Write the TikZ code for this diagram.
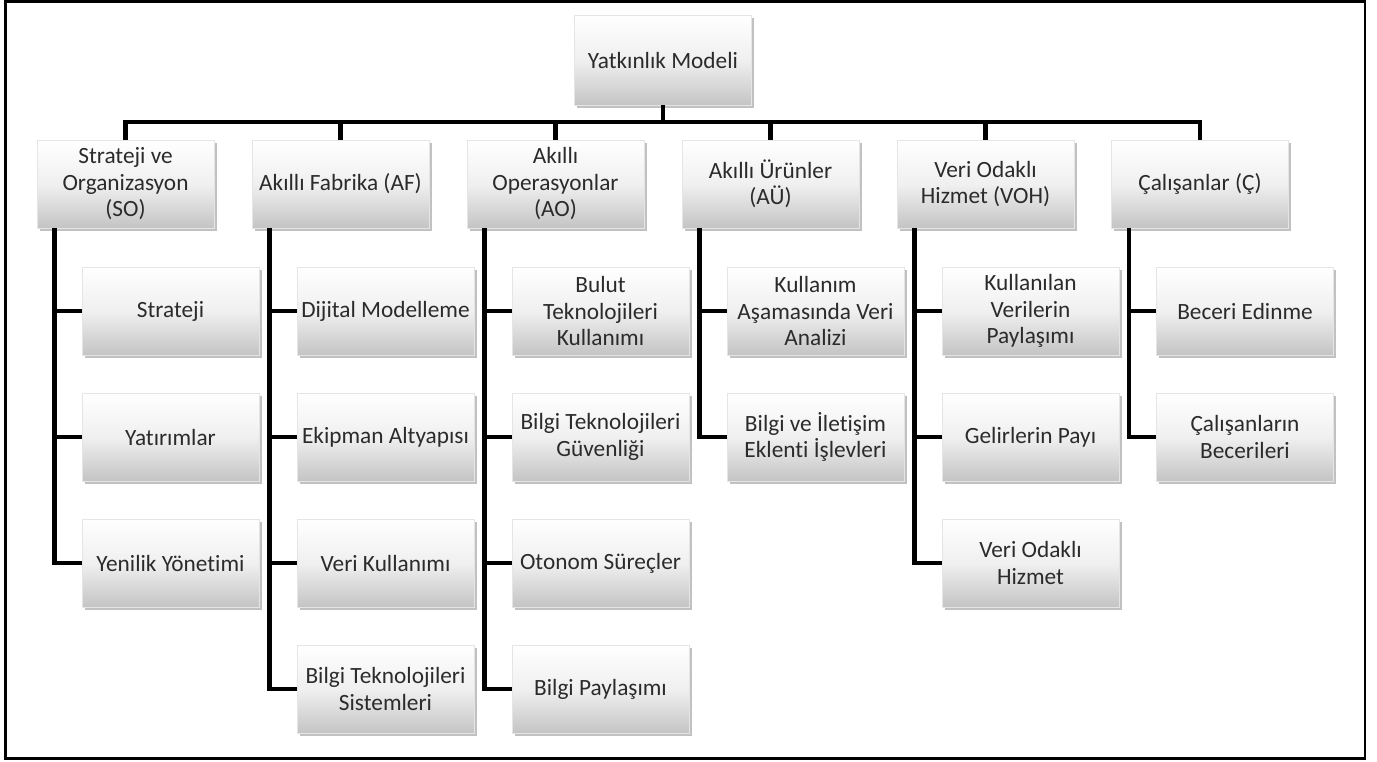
\documentclass[tikz,border=0pt]{standalone}
\usepackage{fontspec}
\setmainfont{Carlito}[Ligatures=NoCommon]
\usetikzlibrary{shadows}
\definecolor{txt}{HTML}{2B2B2B}
\tikzset{
  x=1pt, y=-1pt,
  box/.style={rectangle, minimum width=177pt, minimum height=88pt, inner sep=2pt,
    align=center, text=txt, font=\fontsize{23.3}{26.5}\selectfont,
    draw=black!10, line width=0.6pt,
    top color=white, bottom color=black!23, middle color=black!6,
    drop shadow={shadow xshift=2.5pt, shadow yshift=-3pt, opacity=0.35, fill=black!70}},
  conn/.style={draw=black, line width=4.8pt, line join=miter},
  subconn/.style={draw=black, line width=4.5pt, line join=miter}
}
\begin{document}
\begin{tikzpicture}
\useasboundingbox (0,0) rectangle (1377,762);
\draw[line width=2.6pt] (5.5,1.5) rectangle (1365,758.5);

% root
\node[box, minimum height=90pt] (root) at (663,60) {Yatkınlık Modeli};

% level 1
\node[box] (so)  at (125.5,184) {Strateji ve\\Organizasyon\\(SO)};
\node[box] (af)  at (340.5,184) {Akıllı Fabrika (AF)};
\node[box] (ao)  at (555.5,184) {Akıllı\\Operasyonlar\\(AO)};
\node[box] (au)  at (770.5,184) {Akıllı Ürünler\\(AÜ)};
\node[box] (voh) at (985.5,184) {Veri Odaklı\\Hizmet (VOH)};
\node[box] (c)   at (1200,184)  {Çalışanlar (Ç)};

% children SO
\node[box] (so1) at (170.5,311) {Strateji};
\node[box] (so2) at (170.5,437) {Yatırımlar};
\node[box] (so3) at (170.5,563) {Yenilik Yönetimi};
% children AF
\node[box] (af1) at (385.5,311) {Dijital Modelleme};
\node[box] (af2) at (385.5,437) {Ekipman Altyapısı};
\node[box] (af3) at (385.5,563) {Veri Kullanımı};
\node[box] (af4) at (385.5,689) {Bilgi Teknolojileri\\Sistemleri};
% children AO
\node[box] (ao1) at (600.5,311) {Bulut\\Teknolojileri\\Kullanımı};
\node[box] (ao2) at (600.5,437) {Bilgi Teknolojileri\\Güvenliği};
\node[box] (ao3) at (600.5,563) {Otonom Süreçler};
\node[box] (ao4) at (600.5,689) {Bilgi Paylaşımı};
% children AU
\node[box] (au1) at (815.5,311) {Kullanım\\Aşamasında Veri\\Analizi};
\node[box] (au2) at (815.5,437) {Bilgi ve İletişim\\Eklenti İşlevleri};
% children VOH
\node[box] (voh1) at (1030.5,311) {Kullanılan\\Verilerin\\Paylaşımı};
\node[box] (voh2) at (1030.5,437) {Gelirlerin Payı};
\node[box] (voh3) at (1030.5,563) {Veri Odaklı\\Hizmet};
% children C
\node[box] (c1) at (1245,311) {Beceri Edinme};
\node[box] (c2) at (1245,437) {Çalışanların\\Becerileri};

% top connectors
\coordinate (bar) at (663,122);
\draw[conn] (root.south) -- (bar);
\foreach \n in {so,af,ao,au,voh,c} {
  \draw[conn] (bar) -| (\n.north);
}
% sub connectors
\foreach \p/\kids in {so/{so1,so2,so3}, af/{af1,af2,af3,af4}, ao/{ao1,ao2,ao3,ao4}, au/{au1,au2}, voh/{voh1,voh2,voh3}, c/{c1,c2}} {
  \foreach \k in \kids {
    \draw[subconn] ([xshift=18pt]\p.south west) |- (\k.west);
  }
}
\end{tikzpicture}
\end{document}
